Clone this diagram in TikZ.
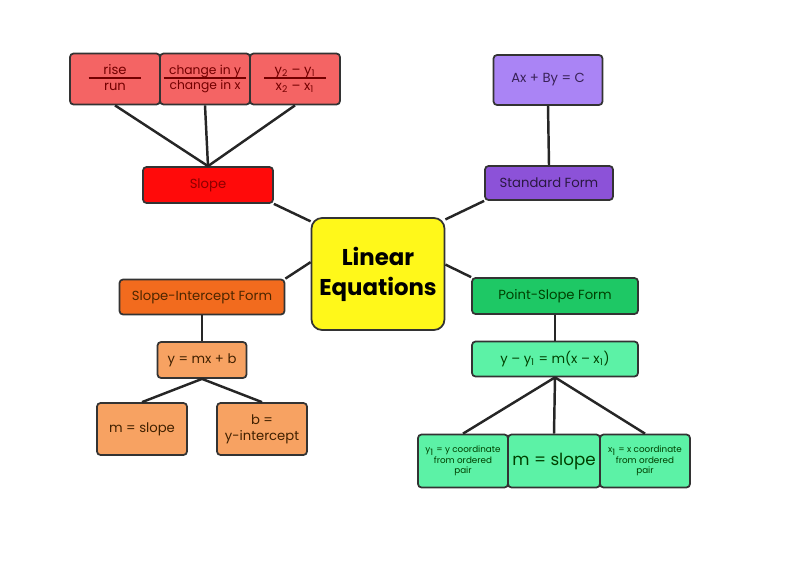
\documentclass[tikz,border=0pt]{standalone}
\usepackage{fontspec}
\setmainfont{Poppins}
\usepackage{xcolor}
\definecolor{rowred}{HTML}{F46464}
\definecolor{slopered}{HTML}{FF0A0A}
\definecolor{lilac}{HTML}{AA84F5}
\definecolor{violet}{HTML}{8C52D8}
\definecolor{lemon}{HTML}{FFF81A}
\definecolor{darkorange}{HTML}{F26B1E}
\definecolor{lightorange}{HTML}{F7A262}
\definecolor{darkgreen}{HTML}{1EC865}
\definecolor{lightgreen}{HTML}{5CF2A6}
\setlength{\arrayrulewidth}{1pt}
\newcommand{\fracbox}[3][1.06cm]{\begin{tabular}{@{}c@{}}\makebox[#1]{#2}\\[-1pt]\hline #3\end{tabular}}
\begin{document}
\begin{tikzpicture}[
    x=0.02cm, y=-0.02cm,
    box/.style={draw=black!80, line width=1pt, rounded corners=2pt, inner sep=1pt,
      align=center, font=\fontsize{7.5}{9}\selectfont},
    redbox/.style={box, fill=rowred, text=red!45!black, minimum width=1.8cm, minimum height=1.02cm},
    topbox/.style={box, fill=slopered, text=red!55!black, minimum width=2.6cm, minimum height=0.72cm},
    lilacbox/.style={box, fill=lilac, text=violet!40!black, minimum width=2.18cm, minimum height=1cm},
    violetbox/.style={box, fill=violet, text=violet!30!black, minimum width=2.56cm, minimum height=0.68cm},
    orangebox/.style={box, fill=darkorange, text=orange!30!black, minimum width=3.3cm, minimum height=0.7cm},
    peachbox/.style={box, fill=lightorange, text=orange!25!black, minimum width=1.8cm, minimum height=1.04cm},
    greenbox/.style={box, fill=darkgreen, text=green!25!black, minimum width=3.32cm, minimum height=0.72cm},
    mintbox/.style={box, fill=lightgreen, text=green!25!black, minimum width=1.8cm, minimum height=1.06cm},
    link/.style={draw=black!85, line width=1.4pt},
    ]
    \useasboundingbox (0,0) rectangle (800,579);

    % Centre
    \node[box, fill=lemon, rounded corners=6pt, minimum width=2.66cm, minimum height=2.24cm,
      font=\fontsize{13}{17}\selectfont\bfseries] (lin) at (378,274) {Linear\\Equations};

    % Slope
    \node[redbox] (rise) at (115,79) {\fracbox{rise}{run}};
    \node[redbox, font=\fontsize{7}{8.5}\selectfont] (chg) at (205,79) {\fracbox[1.66cm]{change in y}{change in x}};
    \node[redbox] (ydiff) at (295,79) {\fracbox[1.24cm]{y\textsubscript{2} -- y\textsubscript{1}}{x\textsubscript{2} -- x\textsubscript{1}}};
    \node[topbox] (slope) at (208,185) {Slope};

    % Standard form
    \node[lilacbox] (axby) at (548,80) {Ax + By = C};
    \node[violetbox] (std) at (549,183) {Standard Form};

    % Slope-intercept form
    \node[orangebox] (si) at (202,297) {Slope-Intercept Form};
    \node[peachbox, minimum width=1.78cm, minimum height=0.72cm] (ymxb) at (202,360) {y = mx + b};
    \node[peachbox] (mslope) at (142,429) {m = slope};
    \node[peachbox] (bint) at (262,429) {b =\\y-intercept};

    % Point-slope form
    \node[greenbox] (ps) at (555,296) {Point-Slope Form};
    \node[mintbox, minimum width=3.32cm, minimum height=0.7cm] (pseq) at (555,359) {y -- y\textsubscript{1} = m(x -- x\textsubscript{1})};
    \node[mintbox, font=\fontsize{5}{6}\selectfont] (ycoord) at (463,461) {y\textsubscript{1} = y coordinate\\from ordered\\pair};
    \node[mintbox, minimum width=1.84cm, font=\fontsize{9.5}{11}\selectfont] (mslope2) at (554,461) {m = slope};
    \node[mintbox, font=\fontsize{5}{6}\selectfont] (xcoord) at (645,461) {x\textsubscript{1} = x coordinate\\from ordered\\pair};

    % Connectors
    \draw[link] (slope.north) -- (rise.south);
    \draw[link] (slope.north) -- (chg.south);
    \draw[link] (slope.north) -- (ydiff.south);
    \draw[link] (axby.south) -- (std.north);
    \draw[link] (slope.south east) -- (lin.142);
    \draw[link] (std.south west) -- (lin.39);
    \draw[link] (si.north east) -- (lin.170);
    \draw[link] (ps.north west) -- (lin.8);
    \draw[link] (si.south) -- (ymxb.north);
    \draw[link] (ymxb.south) -- (mslope.north);
    \draw[link] (ymxb.south) -- (bint.north);
    \draw[link] (ps.south) -- (pseq.north);
    \draw[link] (pseq.south) -- (ycoord.north);
    \draw[link] (pseq.south) -- (mslope2.north);
    \draw[link] (pseq.south) -- (xcoord.north);
\end{tikzpicture}
\end{document}
